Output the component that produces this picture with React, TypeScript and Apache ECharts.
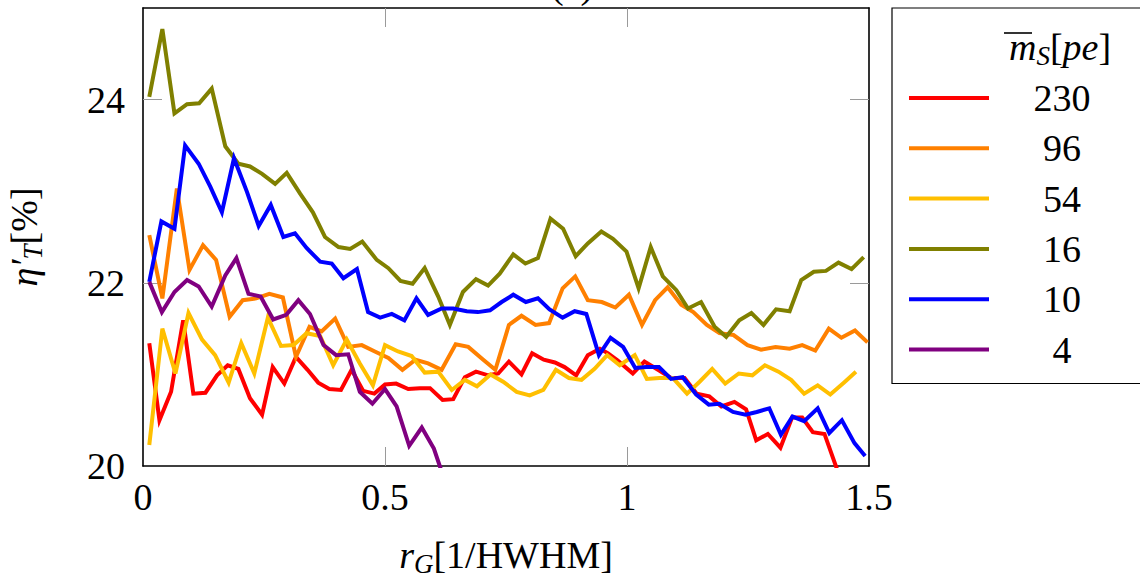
import React, { useEffect, useRef } from "react";
import * as echarts from "echarts";

const FONT = "'Liberation Serif', 'DejaVu Serif', serif";

const seriesNames = ["230", "96", "54", "16", "10", "4"];
const seriesColors = ["#ff0000", "#ff8000", "#ffbf00", "#808000", "#0000ff", "#800080"];

const xLabelValues = [0, 0.5, 1, 1.5];
const xTickValues = [0.5, 1];
const yLabelValues = [20, 22, 24];
const yTickValues = [22, 24];

const d230: [number, number][] = [
  [0.013, 21.34], [0.034, 20.5], [0.058, 20.81], [0.083, 21.59], [0.104, 20.79], [0.129, 20.8],
  [0.153, 20.99], [0.175, 21.1], [0.197, 21.06], [0.221, 20.74], [0.246, 20.56], [0.268, 21.08],
  [0.292, 20.9], [0.316, 21.19], [0.34, 21.05], [0.362, 20.91], [0.385, 20.84], [0.409, 20.83],
  [0.431, 21.05], [0.455, 20.82], [0.478, 20.79], [0.5, 20.89], [0.523, 20.9], [0.548, 20.84],
  [0.572, 20.85], [0.593, 20.85], [0.619, 20.72], [0.641, 20.73], [0.665, 20.97], [0.688, 21.03],
  [0.713, 20.99], [0.734, 21.01], [0.756, 21.14], [0.782, 21.0], [0.804, 21.23], [0.828, 21.16],
  [0.851, 21.13], [0.871, 21.08], [0.895, 20.99], [0.919, 21.21], [0.944, 21.28], [0.961, 21.23],
  [0.981, 21.15], [1.012, 21.01], [1.036, 21.14], [1.064, 21.05], [1.091, 20.96], [1.119, 20.96],
  [1.144, 20.79], [1.17, 20.76], [1.195, 20.65], [1.222, 20.7], [1.246, 20.62], [1.267, 20.28],
  [1.291, 20.35], [1.317, 20.2], [1.341, 20.53], [1.362, 20.53], [1.384, 20.37], [1.408, 20.35],
  [1.445, 19.8],
];

const d96: [number, number][] = [
  [0.013, 22.52], [0.04, 21.83], [0.07, 23.03], [0.096, 22.14], [0.124, 22.41], [0.151, 22.25],
  [0.179, 21.63], [0.206, 21.81], [0.234, 21.83], [0.261, 21.88], [0.289, 21.84], [0.316, 21.19],
  [0.344, 21.52], [0.369, 21.47], [0.397, 21.61], [0.424, 21.3], [0.452, 21.32], [0.479, 21.25],
  [0.507, 21.18], [0.536, 21.05], [0.563, 21.16], [0.589, 21.12], [0.617, 21.05], [0.646, 21.33],
  [0.672, 21.3], [0.703, 21.16], [0.728, 21.05], [0.756, 21.54], [0.782, 21.64], [0.811, 21.54],
  [0.839, 21.56], [0.867, 21.94], [0.893, 22.07], [0.919, 21.81], [0.948, 21.79], [0.976, 21.73],
  [1.004, 21.87], [1.031, 21.54], [1.058, 21.81], [1.084, 21.95], [1.112, 21.76], [1.137, 21.68],
  [1.165, 21.54], [1.191, 21.45], [1.22, 21.43], [1.249, 21.32], [1.277, 21.27], [1.307, 21.3],
  [1.336, 21.28], [1.362, 21.32], [1.389, 21.26], [1.417, 21.5], [1.443, 21.4], [1.471, 21.48],
  [1.497, 21.35],
];

const d54: [number, number][] = [
  [0.013, 20.23], [0.04, 21.5], [0.067, 21.01], [0.094, 21.67], [0.122, 21.38], [0.149, 21.21],
  [0.177, 20.91], [0.203, 21.34], [0.23, 21.01], [0.258, 21.62], [0.285, 21.31], [0.311, 21.32],
  [0.338, 21.45], [0.366, 21.42], [0.393, 21.1], [0.421, 21.38], [0.448, 21.12], [0.475, 20.88],
  [0.5, 21.32], [0.527, 21.25], [0.555, 21.2], [0.582, 21.02], [0.61, 21.03], [0.638, 20.83],
  [0.665, 20.94], [0.69, 20.87], [0.718, 21.0], [0.744, 20.92], [0.772, 20.81], [0.799, 20.77],
  [0.827, 20.83], [0.853, 21.05], [0.88, 20.96], [0.906, 20.94], [0.933, 21.06], [0.959, 21.21],
  [0.985, 21.1], [1.016, 21.21], [1.041, 20.95], [1.067, 20.96], [1.095, 20.96], [1.124, 20.79],
  [1.15, 20.92], [1.176, 21.06], [1.203, 20.9], [1.231, 21.01], [1.259, 20.99], [1.285, 21.1],
  [1.313, 21.03], [1.339, 20.94], [1.366, 20.79], [1.394, 20.88], [1.42, 20.78], [1.448, 20.91],
  [1.473, 21.03],
];

const d16: [number, number][] = [
  [0.013, 24.03], [0.04, 24.77], [0.065, 23.85], [0.091, 23.95], [0.116, 23.96], [0.142, 24.12],
  [0.17, 23.49], [0.197, 23.3], [0.221, 23.27], [0.246, 23.19], [0.273, 23.08], [0.297, 23.2],
  [0.325, 22.97], [0.351, 22.77], [0.376, 22.5], [0.404, 22.39], [0.428, 22.37], [0.453, 22.45],
  [0.483, 22.25], [0.507, 22.16], [0.532, 22.02], [0.557, 21.99], [0.582, 22.16], [0.61, 21.85],
  [0.634, 21.54], [0.661, 21.9], [0.688, 22.04], [0.713, 21.97], [0.737, 22.1], [0.765, 22.31],
  [0.79, 22.21], [0.816, 22.27], [0.842, 22.7], [0.868, 22.59], [0.894, 22.29], [0.919, 22.43],
  [0.947, 22.56], [0.971, 22.48], [0.999, 22.34], [1.024, 21.94], [1.049, 22.39], [1.074, 22.07],
  [1.102, 21.92], [1.126, 21.72], [1.153, 21.79], [1.181, 21.52], [1.205, 21.41], [1.232, 21.59],
  [1.257, 21.67], [1.282, 21.54], [1.308, 21.71], [1.336, 21.69], [1.36, 22.03], [1.386, 22.12],
  [1.411, 22.13], [1.437, 22.22], [1.464, 22.15], [1.489, 22.28],
];

const d10: [number, number][] = [
  [0.013, 22.01], [0.038, 22.67], [0.065, 22.59], [0.087, 23.5], [0.115, 23.3], [0.139, 23.05],
  [0.163, 22.77], [0.188, 23.36], [0.215, 22.99], [0.239, 22.62], [0.264, 22.85], [0.29, 22.5],
  [0.314, 22.54], [0.338, 22.38], [0.366, 22.23], [0.39, 22.21], [0.414, 22.05], [0.442, 22.15],
  [0.465, 21.68], [0.49, 21.62], [0.514, 21.66], [0.54, 21.59], [0.565, 21.83], [0.589, 21.65],
  [0.617, 21.72], [0.641, 21.72], [0.669, 21.69], [0.692, 21.68], [0.717, 21.7], [0.741, 21.79],
  [0.765, 21.87], [0.791, 21.79], [0.816, 21.83], [0.84, 21.71], [0.867, 21.62], [0.892, 21.69],
  [0.916, 21.66], [0.942, 21.21], [0.966, 21.4], [0.992, 21.3], [1.017, 21.07], [1.04, 21.08],
  [1.066, 21.08], [1.091, 20.95], [1.115, 20.97], [1.143, 20.78], [1.169, 20.67], [1.191, 20.68],
  [1.219, 20.59], [1.245, 20.56], [1.268, 20.59], [1.294, 20.63], [1.318, 20.34], [1.342, 20.54],
  [1.366, 20.49], [1.394, 20.63], [1.418, 20.36], [1.444, 20.5], [1.47, 20.25], [1.492, 20.11],
];

const d4: [number, number][] = [
  [0.013, 22.01], [0.039, 21.68], [0.065, 21.9], [0.091, 22.03], [0.115, 21.96], [0.142, 21.74],
  [0.17, 22.08], [0.193, 22.27], [0.218, 21.88], [0.243, 21.85], [0.269, 21.6], [0.296, 21.65],
  [0.321, 21.81], [0.345, 21.66], [0.373, 21.32], [0.399, 21.21], [0.424, 21.22], [0.448, 20.81],
  [0.474, 20.68], [0.5, 20.84], [0.524, 20.65], [0.55, 20.22], [0.576, 20.42], [0.601, 20.19],
  [0.626, 19.8],
];

const seriesData = [d230, d96, d54, d16, d10, d4];

const richMath = {
  it: { fontFamily: FONT, fontStyle: "italic", fontSize: 38, lineHeight: 44, color: "#000" },
  sub: { fontFamily: FONT, fontStyle: "italic", fontSize: 27, lineHeight: 16, verticalAlign: "bottom", color: "#000" },
  rm: { fontFamily: FONT, fontSize: 38, lineHeight: 44, color: "#000" },
};

const frameLine = { show: true, onZero: false, lineStyle: { color: "#000", width: 1.6 } };
const tickStyle = { color: "#9a9a9a", width: 1 };

export default function App() {
  const ref = useRef<HTMLDivElement>(null);

  useEffect(() => {
    if (!ref.current) return;
    const chart = echarts.init(ref.current, undefined, { renderer: "svg" });
    const option: any = {
      animation: false,
      backgroundColor: "#fff",
      grid: { left: 143, top: 8, width: 726, height: 458, containLabel: false, outerBoundsMode: "none" },
      xAxis: [
        {
          type: "value", min: 0, max: 1.5, interval: 0.5, position: "bottom",
          axisLine: frameLine,
          axisTick: { show: true, inside: true, length: 19, lineStyle: tickStyle, customValues: xTickValues },
          axisLabel: { fontFamily: FONT, fontSize: 38, color: "#000", margin: 12, customValues: xLabelValues },
          splitLine: { show: false },
          name: "{it|r}{sub|G}{rm|[1/HWHM]}",
          nameLocation: "middle", nameGap: 67,
          nameTextStyle: { fontFamily: FONT, fontSize: 38, color: "#000", rich: richMath },
        },
        {
          type: "value", min: 0, max: 1.5, interval: 0.5, position: "top",
          axisLine: frameLine,
          axisTick: { show: true, inside: true, length: 19, lineStyle: tickStyle, customValues: xTickValues },
          axisLabel: { show: false },
          splitLine: { show: false },
        },
      ],
      yAxis: [
        {
          type: "value", min: 20, max: 25, interval: 2, position: "left",
          axisLine: frameLine,
          axisTick: { show: true, inside: true, length: 19, lineStyle: tickStyle, customValues: yTickValues },
          axisLabel: { fontFamily: FONT, fontSize: 38, color: "#000", margin: 18, customValues: yLabelValues },
          splitLine: { show: false },
          name: "{it|η′}{sub|T}{rm|[%]}",
          nameLocation: "middle", nameGap: 97, nameRotate: 90,
          nameTextStyle: { fontFamily: FONT, fontSize: 38, color: "#000", rich: richMath },
        },
        {
          type: "value", min: 20, max: 25, interval: 2, position: "right",
          axisLine: frameLine,
          axisTick: { show: true, inside: true, length: 19, lineStyle: tickStyle, customValues: yTickValues },
          axisLabel: { show: false },
          splitLine: { show: false },
        },
      ],
      legend: {
        data: seriesNames,
        orient: "vertical",
        left: 892,
        top: 8,
        padding: [70, 40, 14, 17],
        itemWidth: 80,
        itemHeight: 4,
        itemGap: 10.3,
        icon: "rect",
        borderColor: "#000",
        borderWidth: 1.2,
        borderRadius: 0,
        backgroundColor: "#fff",
        selectedMode: false,
        formatter: (n: string) => `{c|${n}}`,
        textStyle: {
          fontFamily: FONT, fontSize: 38, color: "#000", lineHeight: 40,
          rich: { c: { width: 136, align: "center", fontFamily: FONT, fontSize: 38, lineHeight: 40, color: "#000" } },
        },
      },
      graphic: [
        {
          type: "text", x: 1060, y: 47, z: 100,
          style: {
            text: "{it|m}{sub|S}{rm|[}{it|pe}{rm|]}",
            align: "center", verticalAlign: "middle", textAlign: "center", textVerticalAlign: "middle",
            fontFamily: FONT, fontSize: 38, fill: "#000",
            rich: richMath,
          },
        },
        {
          type: "line", z: 100,
          shape: { x1: 1004, y1: 33, x2: 1032, y2: 33 },
          style: { stroke: "#000", lineWidth: 1.6 },
        },
        {
          type: "text", x: 572, y: 4,
          style: {
            text: "(a)", align: "center", verticalAlign: "bottom", textAlign: "center", textVerticalAlign: "bottom",
            fontFamily: FONT, fontSize: 38, fill: "#000",
          },
        },
      ],
      series: seriesNames.map((name, i) => ({
        name,
        type: "line",
        data: seriesData[i],
        xAxisIndex: 0,
        yAxisIndex: 0,
        symbol: "none",
        showSymbol: false,
        clip: true,
        color: seriesColors[i],
        itemStyle: { color: seriesColors[i] },
        lineStyle: { color: seriesColors[i], width: 4, join: "miter" },
        z: 2 + i,
      })),
    };
    chart.setOption(option);
    return () => chart.dispose();
  }, []);

  return (
    <div
      ref={ref}
      style={{ position: "absolute", left: 0, top: 0, width: 1140, height: 582, background: "#fff" }}
    />
  );
}
